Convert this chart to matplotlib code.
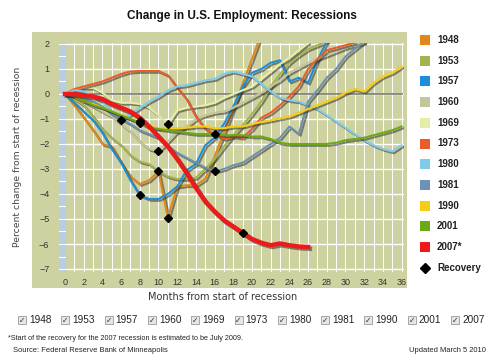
import matplotlib
matplotlib.use('Agg')
import matplotlib.pyplot as plt
import matplotlib.patheffects as pe
from matplotlib.patches import Rectangle
from matplotlib.lines import Line2D

# --- data (percent change from start of recession, by month) ---
years = ['1948', '1953', '1957', '1960', '1969', '1973', '1980', '1981', '1990', '2001', '2007']
legend_labels = ['1948', '1953', '1957', '1960', '1969', '1973', '1980', '1981', '1990', '2001', '2007*']
colors = ['#E0881C', '#A4B44C', '#1C8FD8', '#C3C59B', '#E6EDA6', '#EC5C2A',
          '#80CCE8', '#6B91B3', '#F7CB16', '#6BAA16', '#EC1A1A']
recovery_month = [11, 10, 8, 10, 11, 16, 6, 16, 8, 8, 19]

y1948 = [0, -0.45, -0.95, -1.45, -2.0, -2.1, -2.75, -3.3, -3.6, -3.45, -3.1, -4.95, -3.7, -3.65,
         -3.65, -3.4, -2.5, -1.55, -0.6, 0.4, 1.4, 2.4]
y1953 = [0, -0.2, -0.45, -0.9, -1.4, -1.75, -2.05, -2.45, -2.7, -2.8, -3.1, -3.3, -3.4, -3.4,
         -3.35, -3.0, -2.6, -2.1, -1.65, -1.25, -0.8, -0.3, 0.3, 0.8, 1.25, 1.55, 1.8, 1.95, 2.1]
y1957 = [0, -0.35, -0.7, -1.05, -1.55, -2.2, -2.75, -3.45, -4.05, -4.2, -4.2, -4.0, -3.7, -3.05,
         -2.8, -2.05, -1.75, -1.2, -0.5, 0.3, 0.85, 1.0, 1.25, 1.35, 0.5, 0.65, 0.45, 1.35, 2.1]
y1960 = [0, -0.1, -0.3, -0.5, -0.7, -0.9, -1.2, -1.5, -1.9, -2.2, -2.3, -1.9, -1.5, -1.3, -1.0,
         -0.85, -0.75, -0.7, -0.55, -0.35, -0.15, 0.05, 0.3, 0.55, 0.85, 1.05, 1.25, 1.4, 1.55,
         1.7, 1.85, 1.95, 2.05]
y1969 = [0, 0.15, 0.25, 0.25, 0.05, -0.25, -0.35, -0.35, -0.4, -0.55, -0.85, -1.2, -0.65, -0.55,
         -0.5, -0.45, -0.35, -0.15, 0.0, 0.15, 0.3, 0.6, 0.9, 1.2, 1.45, 1.75, 2.05]
y1973 = [0, 0.2, 0.3, 0.4, 0.5, 0.65, 0.8, 0.9, 0.92, 0.92, 0.92, 0.75, 0.25, -0.2, -0.9, -1.4,
         -1.6, -1.8, -1.7, -1.75, -1.4, -0.95, -0.75, -0.45, -0.1, 0.3, 1.0, 1.4, 1.75, 1.85, 1.95,
         2.05]
y1980 = [0, 0.15, 0.1, -0.1, -0.3, -0.7, -1.05, -0.8, -0.55, -0.3, -0.1, 0.15, 0.3, 0.35, 0.45,
         0.55, 0.6, 0.8, 0.9, 0.8, 0.7, 0.4, 0.1, -0.15, -0.25, -0.3, -0.45, -0.6, -0.85, -1.1,
         -1.35, -1.6, -1.85, -2.05, -2.2, -2.3, -2.05]
y1981 = [0, -0.05, -0.15, -0.3, -0.5, -0.8, -1.0, -1.2, -1.45, -1.6, -1.75, -2.1, -2.35, -2.55,
         -2.75, -2.95, -3.1, -3.0, -2.85, -2.75, -2.5, -2.25, -2.0, -1.75, -1.3, -1.6, -0.3, 0.15,
         0.65, 1.0, 1.5, 1.8, 2.1]
y1990 = [0, -0.1, -0.3, -0.4, -0.55, -0.7, -0.85, -1.0, -1.1, -1.3, -1.37, -1.37, -1.37, -1.35,
         -1.3, -1.3, -1.37, -1.37, -1.3, -1.3, -1.2, -1.12, -1.05, -0.97, -0.9, -0.75, -0.6, -0.45,
         -0.3, -0.15, 0.05, 0.2, 0.1, 0.45, 0.7, 0.85, 1.1]
y2001 = [0, -0.05, -0.25, -0.45, -0.55, -0.7, -0.85, -1.0, -1.15, -1.35, -1.4, -1.45, -1.5, -1.55,
         -1.6, -1.6, -1.6, -1.65, -1.65, -1.65, -1.7, -1.7, -1.8, -1.95, -2.0, -2.0, -2.0, -2.0,
         -2.0, -1.95, -1.85, -1.8, -1.75, -1.65, -1.55, -1.45, -1.3]
y2007 = [0, 0.0, -0.05, -0.1, -0.2, -0.4, -0.55, -0.7, -0.95, -1.3, -1.7, -2.1, -2.6, -3.15, -3.75,
         -4.3, -4.7, -5.05, -5.3, -5.55, -5.8, -5.95, -6.05, -5.98, -6.05, -6.1, -6.12]

series = [y1948, y1953, y1957, y1960, y1969, y1973, y1980, y1981, y1990, y2001, y2007]

W, H = 500, 357
olive = '#CED2A0'


def fx(px):
    return px / W


def fy(py):
    return 1 - py / H


fig = plt.figure(figsize=(5, 3.57), dpi=100)
fig.patch.set_facecolor('white')

# olive panel behind the plot
fig.add_artist(Rectangle((fx(32), fy(288)), 375 / W, 256 / H, transform=fig.transFigure,
                         facecolor=olive, edgecolor='none', zorder=0))

ax = fig.add_axes([fx(59), fy(272), 345 / W, 229 / H])
ax.set_facecolor(olive)
for s in ax.spines.values():
    s.set_visible(False)
ax.set_xlim((59 - 65) / 9.35, (404 - 65) / 9.35)
ax.set_ylim(-7.12, 2.04)

for m in range(0, 37):
    ax.axvline(m, color='white', lw=0.7, zorder=1)
for v in range(-7, 3):
    ax.axhline(v, color='white', lw=1.0, zorder=1)
ax.axvspan(-1, 0, color='#B8CCE2', zorder=1.5)
for k in range(-14, 5):
    ax.plot([-1, 0], [k / 2, k / 2], color='white', lw=0.8, zorder=1.6)
ax.plot([0, 36], [0, 0], color='#85857a', lw=1.3, zorder=2)

shadow = [pe.SimpleLineShadow(offset=(1.3, -1.3), shadow_color='#303030', alpha=0.55), pe.Normal()]
for i, vals in enumerate(series):
    lw = 3.2 if years[i] == '2007' else 1.5
    ax.plot(range(len(vals)), vals, color=colors[i], lw=lw, solid_joinstyle='round',
            path_effects=shadow, zorder=3 + i)

rec_x = recovery_month
rec_y = [series[i][m] for i, m in enumerate(recovery_month)]
ax.plot(rec_x, rec_y, 'D', color='black', ms=4.5, zorder=30)

ax.set_xticks(range(0, 37, 2))
ax.set_yticks(range(-7, 3))
ax.tick_params(length=0, labelsize=6.5, colors='#333333')
ax.tick_params(axis='y', pad=7)
ax.tick_params(axis='x', pad=4)
for lab in ax.get_xticklabels() + ax.get_yticklabels():
    lab.set_family('Liberation Sans')

fig.text(fx(242), fy(16), 'Change in U.S. Employment: Recessions', ha='center', va='center',
         fontsize=8.5, fontweight='bold', family='Liberation Sans', color='#111111')
fig.text(fx(18), fy(157), 'Percent change from start of recession', rotation=90,
         ha='center', va='center', fontsize=6.7, color='#444444')
fig.text(fx(223), fy(297), 'Months from start of recession', ha='center', va='center',
         fontsize=7, color='#333333')

# legend at right
for i, lab in enumerate(legend_labels):
    yy = 40 + 20.7 * i
    fig.add_artist(Rectangle((fx(420), fy(yy + 5)), 10 / W, 10 / H, transform=fig.transFigure,
                             facecolor=colors[i], edgecolor='none'))
    fig.text(fx(437), fy(yy), lab, va='center', fontsize=7, fontweight='bold',
             family='Liberation Sans', color='#222222')
yy = 40 + 20.7 * 11
fig.add_artist(Line2D([fx(425)], [fy(yy)], marker='D', ms=5.5, color='black',
                      transform=fig.transFigure))
fig.text(fx(437), fy(yy), 'Recovery', va='center', fontsize=7, fontweight='bold',
         family='Liberation Sans', color='#222222')

# checkbox row
for i, yr in enumerate(years):
    x0 = 18 + 43.3 * i
    fig.add_artist(Rectangle((fx(x0), fy(324)), 8 / W, 8 / H, transform=fig.transFigure,
                             facecolor='#E6E6E6', edgecolor='#9a9a9a', lw=0.6))
    fig.text(fx(x0 + 4), fy(320), '\u2713', ha='center', va='center', fontsize=5.5,
             color='#333333')
    fig.text(fx(x0 + 11), fy(320), yr, va='center', fontsize=7.2, family='Liberation Sans',
             color='#222222')

fig.text(fx(8), fy(338), '*Start of the recovery for the 2007 recession is estimated to be July 2009.',
         va='center', fontsize=5.2, family='Liberation Sans', color='#222222')
fig.text(fx(13), fy(350), 'Source: Federal Reserve Bank of Minneapolis', va='center',
         fontsize=5.4, family='Liberation Sans', color='#222222')
fig.text(fx(486), fy(350), 'Updated March 5 2010', va='center', ha='right',
         fontsize=5.4, family='Liberation Sans', color='#222222')

fig.savefig('out.png', dpi=100)
